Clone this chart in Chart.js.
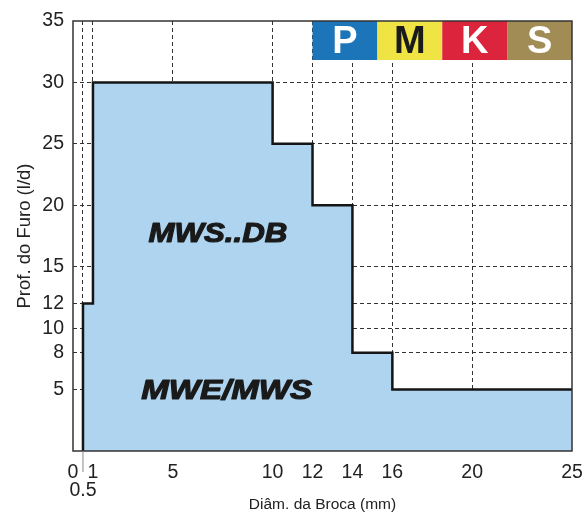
<!DOCTYPE html>
<html>
<head>
<meta charset="utf-8">
<script src="https://cdn.jsdelivr.net/npm/chart.js@4.4.0/dist/chart.umd.min.js"></script>
<style>
  html, body { margin: 0; padding: 0; background: #fff; }
</style>
</head>
<body>
<canvas id="chart" width="586" height="514"></canvas>
<script>
// step outline of the application area (diameter in mm -> max depth l/d)
const diameters = [0.5, 0.5, 1, 10, 12, 14, 16, 25];
const depths = [0, 12, 30, 25, 20, 8, 5, 5];

const xTicks = [0, 0.5, 1, 5, 10, 12, 14, 16, 20, 25];
const yTicks = [5, 8, 10, 12, 15, 20, 25, 30, 35];

const groups = ["P", "M", "K", "S"];
const groupColors = ["#1c75b9", "#efe444", "#dc253d", "#a18c56"];
const groupTextColors = ["#ffffff", "#1a1a1a", "#ffffff", "#ffffff"];
const groupStart = 12; // mm where the P box begins

const regionNames = ["MWS..DB", "MWE/MWS"];

const textColor = "#222";

// frame, material boxes, region names
const extras = {
  id: "extras",
  afterDraw(chart) {
    const { ctx, chartArea: a, scales: { x, y } } = chart;
    ctx.save();

    // material group boxes
    const x0 = x.getPixelForValue(groupStart);
    const w = (a.right - x0) / groups.length;
    const h = 39;
    ctx.font = "bold 38px 'Liberation Sans', Arial, sans-serif";
    ctx.textAlign = "center";
    ctx.textBaseline = "middle";
    groups.forEach((g, i) => {
      ctx.fillStyle = groupColors[i];
      ctx.fillRect(x0 + i * w, a.top, w, h);
      ctx.fillStyle = groupTextColors[i];
      ctx.fillText(g, x0 + i * w + w / 2, a.top + h / 2 + 2);
    });

    // plot frame
    ctx.strokeStyle = "#333";
    ctx.lineWidth = 1.5;
    ctx.strokeRect(a.left, a.top, a.right - a.left, a.bottom - a.top);

    // long tick for 0.5
    const px = x.getPixelForValue(0.5);
    ctx.strokeStyle = "#888";
    ctx.lineWidth = 1;
    ctx.beginPath();
    ctx.moveTo(px, a.bottom);
    ctx.lineTo(px, a.bottom + 21);
    ctx.stroke();

    // region names, stretched to the width they have in the drawing
    const anchors = [[7.26, 17.65, 139], [7.7, 4.85, 171]];
    ctx.font = "italic bold 28px 'Liberation Sans', Arial, sans-serif";
    ctx.fillStyle = "#1a1a1a";
    ctx.strokeStyle = "#1a1a1a";
    ctx.lineWidth = 1.2;
    ctx.lineJoin = "round";
    regionNames.forEach((name, i) => {
      const [vx, vy, tw] = anchors[i];
      const cx = x.getPixelForValue(vx);
      const cy = y.getPixelForValue(vy);
      const sx = tw / ctx.measureText(name).width;
      ctx.save();
      ctx.translate(cx, cy);
      ctx.scale(sx, 1);
      ctx.fillText(name, 0, 0);
      ctx.strokeText(name, 0, 0);
      ctx.restore();
    });

    ctx.restore();
  }
};

new Chart(document.getElementById("chart"), {
  type: "line",
  data: {
    datasets: [{
      data: diameters.map((d, i) => ({ x: d, y: depths[i] })),
      stepped: "before",
      fill: "origin",
      backgroundColor: "#aed4ef",
      borderColor: "#151515",
      borderWidth: 2.5,
      pointRadius: 0
    }]
  },
  options: {
    responsive: false,
    animation: false,
    layout: { padding: { left: 0, right: 14, top: 21, bottom: 0 } },
    plugins: { legend: { display: false }, tooltip: { enabled: false } },
    scales: {
      x: {
        type: "linear",
        min: 0,
        max: 25,
        z: 1,
        afterBuildTicks: s => { s.ticks = xTicks.map(v => ({ value: v })); },
        afterFit: s => { s.height = 63; s.paddingLeft = 0; s.paddingRight = 0; },
        ticks: {
          autoSkip: false,
          maxRotation: 0,
          color: textColor,
          font: { family: "'Liberation Sans', Arial", size: 19.5, lineHeight: 0.9 },
          padding: 13,
          callback: v => (v === 0.5 ? ["", "0.5"] : String(v))
        },
        grid: {
          drawTicks: false,
          lineWidth: 1,
          color: c => (c.tick && (c.tick.value === 0 || c.tick.value === 25)) ? "rgba(0,0,0,0)" : "#333"
        },
        border: { display: false, dash: [4, 3] },
        title: {
          display: true,
          text: "Diâm. da Broca (mm)",
          color: textColor,
          font: { family: "'Liberation Sans', Arial", size: 15.5 },
          padding: { top: 0, bottom: 0 }
        }
      },
      y: {
        min: 0,
        max: 35,
        z: 1,
        afterBuildTicks: s => { s.ticks = yTicks.map(v => ({ value: v })); },
        afterFit: s => { s.width = 73; s.paddingTop = 0; s.paddingBottom = 0; },
        ticks: {
          autoSkip: false,
          color: textColor,
          font: { family: "'Liberation Sans', Arial", size: 19.5 },
          padding: 9
        },
        grid: {
          drawTicks: false,
          lineWidth: 1,
          color: c => (c.tick && c.tick.value === 35) ? "rgba(0,0,0,0)" : "#333"
        },
        border: { display: false, dash: [4, 3] },
        title: {
          display: true,
          text: "Prof. do Furo (l/d)",
          color: textColor,
          font: { family: "'Liberation Sans', Arial", size: 18.5 },
          padding: { top: 14, bottom: 0 }
        }
      }
    }
  },
  plugins: [extras]
});
</script>
</body>
</html>
